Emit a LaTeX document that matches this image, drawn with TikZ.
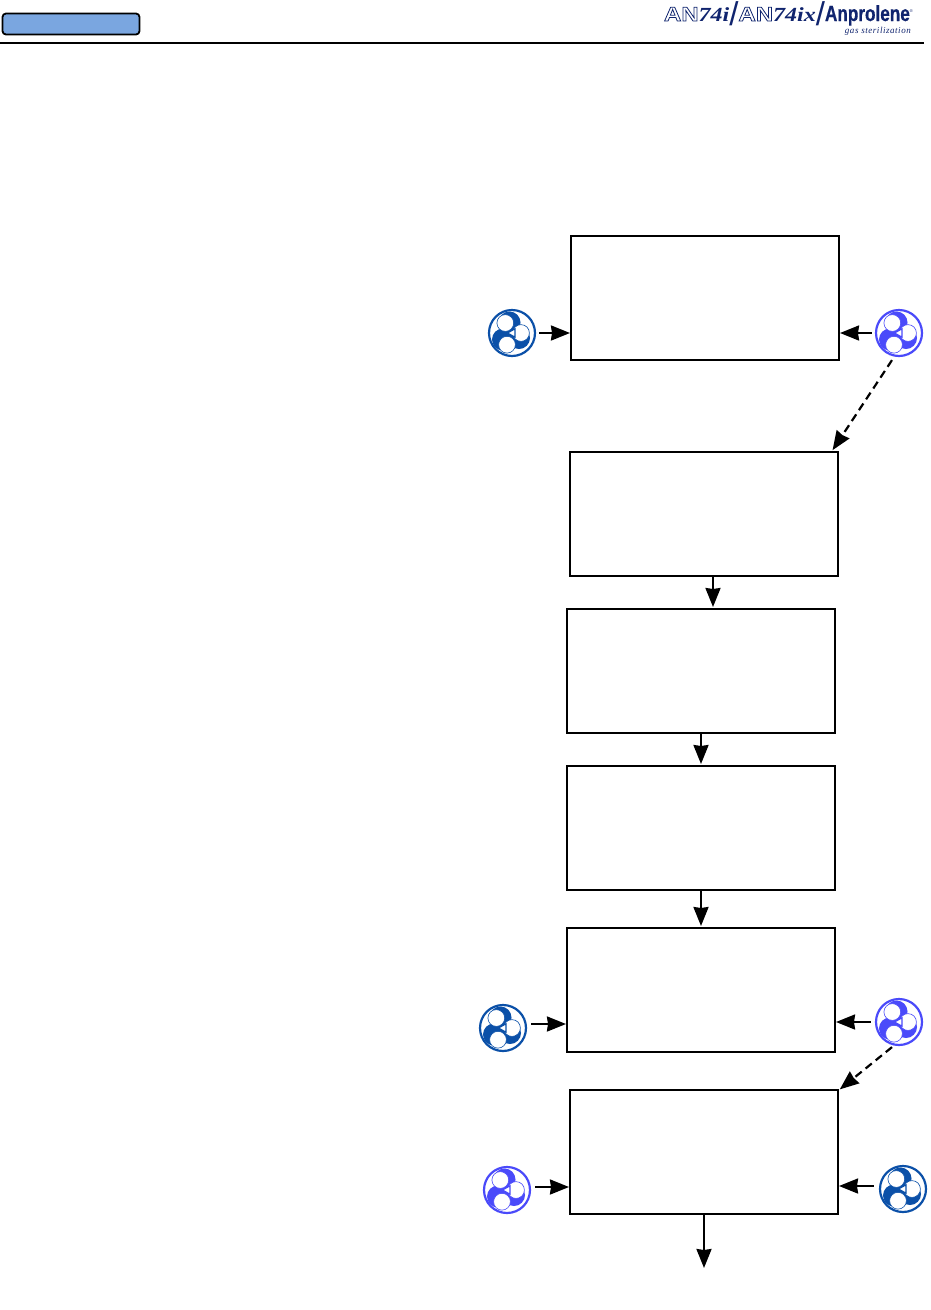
\documentclass[tikz,border=0pt]{standalone}
\usepackage{fontspec}
\usetikzlibrary{arrows.meta}
\setmainfont{Liberation Sans}
\newfontfamily\logowide[FakeStretch=1.2,FakeBold=4]{Liberation Sans Bold}
\newfontfamily\logonarrow[FakeStretch=0.78,FakeBold=0.5]{Liberation Sans Bold}
\newfontfamily\logoserif[FakeStretch=1.2]{Liberation Serif Bold Italic}
\newfontfamily\logosub[LetterSpace=6]{Liberation Serif Italic}
\definecolor{fan_dark}{HTML}{0B50A8}
\definecolor{fan_light}{HTML}{4A4AFA}
\definecolor{tab_blue}{HTML}{7AA6E0}
\definecolor{logo_navy}{HTML}{10246E}
\begin{document}
\begin{tikzpicture}[x=1pt, y=-1pt, shorten >=1pt,
    box_style/.style={rectangle,draw=black,line width=2pt,fill=white,inner sep=0pt,
      minimum width=268pt,minimum height=124pt},
    fan_style/.style={circle,draw=#1,fill=white,line width=2.2pt,inner sep=0pt,minimum size=46pt},
    edge_style/.style={draw=black,line width=2.2pt,-{Stealth[length=19pt,width=15pt,inset=1pt]}},
    dash_style/.style={edge_style,dash pattern=on 8pt off 5pt},
    blades/.pic={
      \fill[#1] (-2.5,-10.5) circle (11) (7,5) circle (11) (-9,6.5) circle (11);
      \fill[#1] (0,0) circle (8);
      \foreach \p in {(-6.7,-10),(9,0),(-5,11.7)}
        \filldraw[draw=#1,fill=white,line width=0.6pt] \p circle (8.4);
      \filldraw[draw=#1,fill=white,line width=1.2pt] (-4.5,0) -- (3,-4.2) -- (3,4.2) -- cycle;
    }]

    \useasboundingbox (0,0) rectangle (931,1310);

    % header
    \node[rectangle,rounded corners=3.5pt,draw=black,line width=1.8pt,fill=tab_blue,
      minimum width=137pt,minimum height=21pt,inner sep=0pt] (tab) at (71,24) {};
    \coordinate (rule_l) at (0,43);
    \coordinate (rule_r) at (924,43);
    \draw[black,line width=2pt,shorten >=0pt] (rule_l) -- (rule_r);
    \node[anchor=base east,inner sep=0pt,text=logo_navy,font=\fontsize{20}{20}\selectfont] (logo) at (913,21)
      {{\logowide\special{pdf:bcolor [1 1 1] [0.06 0.14 0.43]}AN\special{pdf:ecolor}}{\logoserif 74i}\raisebox{-4pt}{\fontsize{33}{33}\selectfont/}{\logowide\special{pdf:bcolor [1 1 1] [0.06 0.14 0.43]}AN\special{pdf:ecolor}}{\logoserif 74ix}\raisebox{-4pt}{\fontsize{33}{33}\selectfont/}{\fontsize{22}{22}\logonarrow Anprolene}\raisebox{9pt}{\fontsize{4}{4}\selectfont®}};
    \node[anchor=base east,inner sep=0pt,text=logo_navy,font=\fontsize{9}{9}\selectfont\logosub] (logo_sub) at (911,33) {gas sterilization};

    % boxes
    \node[box_style] (b1) at (705,298) {};
    \node[box_style] (b2) at (704,514) {};
    \node[box_style] (b3) at (701,671) {};
    \node[box_style] (b4) at (701,828) {};
    \node[box_style] (b5) at (701,990) {};
    \node[box_style] (b6) at (704,1152) {};

    % fans
    \node[fan_style=fan_dark] (fan1) at (512,333) {};
    \node[fan_style=fan_light] (fan2) at (899,333) {};
    \node[fan_style=fan_dark] (fan3) at (503,1028) {};
    \node[fan_style=fan_light] (fan4) at (899,1022) {};
    \node[fan_style=fan_light] (fan5) at (507,1190) {};
    \node[fan_style=fan_dark] (fan6) at (903,1189) {};
    \pic at (fan1) {blades=fan_dark};
    \pic at (fan2) {blades=fan_light};
    \pic at (fan3) {blades=fan_dark};
    \pic at (fan4) {blades=fan_light};
    \pic at (fan5) {blades=fan_light};
    \pic at (fan6) {blades=fan_dark};

    % free ends
    \coordinate (b2_in) at (832,451);
    \coordinate (b6_in) at (839,1090);
    \coordinate (exit) at (704,1269);

    \draw[edge_style] ([xshift=3pt]fan1.east) -- ([xshift=1pt]b1.west |- fan1.east);
    \draw[edge_style] ([xshift=-3pt]fan2.west) -- ([xshift=-1pt]b1.east |- fan2.west);
    \draw[dash_style] ([shift={(-7pt,-3pt)}]fan2.south) -- (b2_in);
    \draw[edge_style] ([xshift=9pt]b2.south) -- ([xshift=9pt]b2.south |- b3.north);
    \draw[edge_style] (b3.south) -- (b4.north);
    \draw[edge_style] (b4.south) -- (b5.north);
    \draw[edge_style] ([shift={(4pt,4pt)}]fan3.east) -- ([xshift=1pt]b5.west |- 0,1024);
    \draw[edge_style] ([xshift=-4pt]fan4.west) -- ([xshift=-1pt]b5.east |- fan4.west);
    \draw[dash_style] ([shift={(-7pt,-1pt)}]fan4.south) -- (b6_in);
    \draw[edge_style] ([shift={(4pt,3pt)}]fan5.east) -- ([xshift=1pt]b6.west |- 0,1187);
    \draw[edge_style] ([shift={(-5pt,3pt)}]fan6.west) -- ([xshift=-1pt]b6.east |- 0,1186);
    \draw[edge_style] (b6.south) -- (exit);
\end{tikzpicture}
\end{document}
